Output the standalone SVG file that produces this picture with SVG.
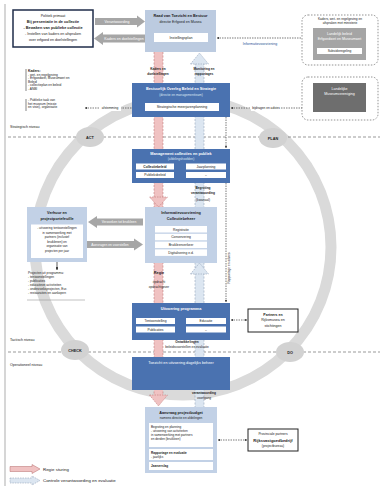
<svg xmlns="http://www.w3.org/2000/svg" width="385" height="486" viewBox="0 0 385 486">
<defs>
<style>
text{font-family:"Liberation Sans",Arial,sans-serif;fill:#1a1a1a}
.t{font-size:3.6px}
.tb{font-size:3.8px;font-weight:bold}
.w{fill:#fff}
.c{text-anchor:middle}
.dk{fill:#4a72b0}
.lt{fill:#c2d1e6}
.sub{fill:#fff}
.lvl{stroke:#555;stroke-width:0.6;stroke-dasharray:3 2;fill:none}
.dash{stroke:#222;stroke-width:0.6;stroke-dasharray:1.5 1;fill:none}
.frame{fill:#fff;stroke:#666;stroke-width:0.7;stroke-dasharray:1.5 1.5}
.ga{fill:#a6a6a6}
.badge{fill:#d2d2d2}
</style>
<marker id="ah" viewBox="0 0 6 6" refX="6" refY="3" markerWidth="4" markerHeight="4" orient="auto-start-reverse"><path d="M0,0 L6,3 L0,6 z" fill="#1a1a1a"/></marker>
</defs>
<rect width="385" height="486" fill="#fff"/>
<line x1="5" y1="4" x2="5" y2="486" stroke="#c8c8c8" stroke-width="1.5"/>

<g id="cycle">
<circle cx="183" cy="247" r="148" fill="none" stroke="#dadada" stroke-width="11"/>
<path class="lvl" d="M8,137 H380 M8,352 H380"/>
<text x="10" y="128" class="t">Strategisch niveau</text>
<text x="10" y="341" class="t">Tactisch niveau</text>
<text x="10" y="366" class="t">Operationeel niveau</text>
<ellipse class="badge" cx="90" cy="137" rx="14" ry="10"/><text x="90" y="139" class="tb c" fill="#555">ACT</text>
<ellipse class="badge" cx="273" cy="138" rx="14" ry="10"/><text x="273" y="140" class="tb c">PLAN</text>
<ellipse class="badge" cx="75" cy="350" rx="14" ry="10"/><text x="75" y="352" class="tb c">CHECK</text>
<ellipse class="badge" cx="290" cy="352" rx="14" ry="10"/><text x="290" y="354" class="tb c">DO</text>
</g>

<g id="connectors">
<!-- pink regie band -->
<rect x="154" y="52" width="9" height="344" fill="#f0c2c2"/>
<path d="M154,52 V396 M163,52 V396" stroke="#b56a6a" stroke-width="0.5" stroke-dasharray="2 1.5"/>
<polygon points="149.5,197 167.5,197 158.5,207" fill="#f0c2c2" stroke="#b56a6a" stroke-width="0.5" stroke-dasharray="1.5 1"/>
<polygon points="149.5,395 167.5,395 158.5,406" fill="#f0c2c2" stroke="#b56a6a" stroke-width="0.5" stroke-dasharray="1.5 1"/>
<!-- blue control band -->
<rect x="195" y="63" width="9" height="344" fill="#dce6f1"/>
<path d="M195,63 V407 M204,63 V407" stroke="#8494ad" stroke-width="0.5" stroke-dasharray="2 1.5"/>
<polygon points="190.5,64 208.5,64 199.5,53" fill="#dce6f1" stroke="#8494ad" stroke-width="0.5" stroke-dasharray="1.5 1"/>
<polygon points="190.5,274 208.5,274 199.5,263" fill="#dce6f1" stroke="#8494ad" stroke-width="0.5" stroke-dasharray="1.5 1"/>
<!-- band labels -->
<text x="158" y="70" class="t c" style="font-size:3.2px;font-weight:bold">Kaders en</text>
<text x="158" y="74.5" class="t c" style="font-size:3.2px;font-weight:bold">doelstellingen</text>
<text x="204" y="70" class="t c" style="font-size:3.2px;font-weight:bold">Monitoring en</text>
<text x="204" y="74.5" class="t c" style="font-size:3.2px;font-weight:bold">rapportages</text>
<text x="203" y="189" class="t c" style="font-size:3.2px;font-weight:bold">Begroting</text>
<text x="203" y="194" class="t c" style="font-size:3.2px;font-weight:bold">verantwoording</text>
<text x="203" y="201" class="t c" style="font-size:3.2px">(kwartaal)</text>
<text x="159" y="274" class="tb c">Regie</text>
<text x="159" y="283" class="t c" style="font-size:3.2px">opdracht</text>
<text x="159" y="287.5" class="t c" style="font-size:3.2px">opdrachtgever</text>
<text x="187" y="343" class="t c" style="font-size:3.2px;font-weight:bold">Ontwikkelingen</text>
<text x="187" y="347.5" class="t c" style="font-size:3.2px">beleidsvoorstellen en evaluatie</text>
<text x="204" y="394" class="t c" style="font-size:3.2px;font-weight:bold">verantwoording</text>
<text x="204" y="399" class="t c" style="font-size:3.2px">voortgang</text>
<!-- right dashed vertical -->
<line class="dash" x1="226" y1="117" x2="226" y2="148" marker-end="url(#ah)"/>
<line class="dash" x1="226" y1="183" x2="226" y2="302" marker-end="url(#ah)"/>
<text transform="translate(229.5,268) rotate(-90)" class="t c" style="font-size:3.2px">Rapportage en advies</text>
<!-- horizontal connectors -->
<line class="dash" x1="301" y1="38" x2="217" y2="38" marker-end="url(#ah)"/>
<text x="260" y="45" class="t c" style="fill:#2e5597">Informatievoorziening</text>
<line class="dash" x1="231" y1="108" x2="312" y2="108" marker-start="url(#ah)" marker-end="url(#ah)"/>
<rect x="251" y="105" width="30" height="6" fill="#fff"/>
<text x="266" y="109.3" class="t c" style="font-size:3.2px">bijdragen en advies</text>
<line class="dash" x1="85" y1="108" x2="144" y2="108" marker-start="url(#ah)" marker-end="url(#ah)"/>
<rect x="99" y="105" width="22" height="6" fill="#fff"/>
<text x="110" y="109.3" class="t c" style="font-size:3.2px">afstemming</text>
<line class="dash" x1="231" y1="320" x2="247" y2="320" marker-start="url(#ah)" marker-end="url(#ah)"/>
<line class="dash" x1="218" y1="440" x2="247" y2="440" marker-start="url(#ah)" marker-end="url(#ah)"/>
<line x1="57" y1="262" x2="57" y2="270" stroke="#1a1a1a" stroke-width="0.7" marker-end="url(#ah)"/>
<!-- gray arrows -->
<polygon class="ga" points="95,18 137,18 137,15.5 145,21.5 137,27.5 137,25 95,25"/>
<text x="117" y="22.8" class="t c w" style="fill:#fff">Verantwoording</text>
<polygon class="ga" points="145,34.5 103,34.5 103,32 94,38.5 103,45 103,42.5 145,42.5"/>
<text x="124" y="39.8" class="t c" style="fill:#fff">Kaders en doelstellingen</text>
<polygon class="ga" points="143,218.5 97,218.5 97,216 88,222 97,228 97,225.5 143,225.5"/>
<text x="119" y="223.3" class="t c" style="fill:#fff;font-size:3.3px">Verzoeken tot bruikleen</text>
<polygon class="ga" points="87,241 134,241 134,238.5 143,244.5 134,250.5 134,248 87,248"/>
<text x="110" y="245.8" class="t c" style="fill:#fff;font-size:3.3px">Aanvragen en voorstellen</text>
</g>

<g id="politiek">
<rect x="13" y="10" width="80" height="37" fill="#fff" stroke="#1f2d4a" stroke-width="1.5"/>
<text x="53" y="17" class="t c">Politiek primaat</text>
<text x="53" y="23" class="tb c">Bij presentatie in de collectie</text>
<text x="53" y="29" class="tb c">- Bewaken van publieke collectie</text>
<text x="53" y="35" class="t c">- Instellen van kaders en afspraken</text>
<text x="53" y="41" class="t c">over erfgoed en doelstellingen</text>
</g>

<g id="raad">
<rect x="145" y="10" width="71" height="42" fill="#bccbe0"/>
<text x="180.5" y="17" class="tb c">Raad van Toezicht en Bestuur</text>
<text x="180.5" y="22.5" class="t c">directie Erfgoed en Musea</text>
<rect x="154" y="33" width="54" height="9" fill="#fff"/>
<text x="181" y="38.8" class="t c">Instellingsplan</text>
</g>

<g id="landelijk-beleid">
<rect class="frame" x="302" y="15" width="76" height="50" rx="6"/>
<text x="340" y="20" class="t c" style="font-size:3.2px">Kaders, wet- en regelgeving en</text>
<text x="340" y="24" class="t c" style="font-size:3.2px">afspraken met ministerie</text>
<rect x="313" y="28" width="53" height="32" fill="#a5a5a5"/>
<text x="339.5" y="35" class="t c" style="fill:#fff">Landelijk beleid</text>
<text x="339.5" y="40" class="t c" style="fill:#fff">Erfgoedwet en Museumwet</text>
<rect x="317" y="48" width="45" height="6" fill="#fff"/>
<text x="339.5" y="52.3" class="t c" style="font-size:3.2px">Subsidieregeling</text>
</g>

<g id="museumvereniging">
<rect class="frame" x="302" y="77" width="76" height="43" rx="6"/>
<rect x="313" y="83" width="53" height="29" fill="#6e6e6e"/>
<text x="339.5" y="90" class="t c" style="fill:#fff">Landelijke</text>
<text x="339.5" y="95" class="t c" style="fill:#fff">Museumvereniging</text>
</g>

<g id="kaders">
<path d="M26,69 V91 M26,99 V111" stroke="#333" stroke-width="0.6"/>
<text x="28" y="71.5" class="tb" style="font-size:3.4px">Kaders:</text>
<text x="28" y="75.5" class="t" style="font-size:3.2px">- wet- en regelgeving</text>
<text x="28" y="79" class="t" style="font-size:3.2px">- Erfgoedwet, Museumwet en</text>
<text x="28" y="82.5" class="t" style="font-size:3.2px">  Beleid</text>
<text x="28" y="86" class="t" style="font-size:3.2px">- collectieplan en beleid</text>
<text x="28" y="89.5" class="t" style="font-size:3.2px">- ANBI</text>
<text x="28" y="101" class="t" style="font-size:3.2px">- Publieke taak van</text>
<text x="28" y="104.5" class="t" style="font-size:3.2px">  het museum (missie</text>
<text x="28" y="108" class="t" style="font-size:3.2px">  en visie), organisatie</text>
</g>

<g id="bestuurlijk">
<rect class="dk" x="132" y="83" width="98" height="34"/>
<text x="181" y="90" class="tb c" style="fill:#fff">Bestuurlijk Overleg Beleid en Strategie</text>
<text x="181" y="95.5" class="t c" style="fill:#dde6f3;font-size:3.2px">(directie en managementteam)</text>
<rect x="145" y="103" width="74" height="8" fill="#fff"/>
<text x="182" y="108.3" class="t c">Strategische meerjarenplanning</text>
</g>

<g id="management">
<rect class="dk" x="132" y="149" width="98" height="34"/>
<text x="181" y="155" class="tb c" style="fill:#fff">Management collecties en publiek</text>
<text x="181" y="160" class="t c" style="fill:#dde6f3;font-size:3.2px">(afdelingshoofden)</text>
<rect x="136" y="163.5" width="38" height="6" fill="#fff"/>
<text x="155" y="167.8" class="tb c" style="font-size:3.3px">Collectiebeleid</text>
<rect x="136" y="172" width="38" height="6" fill="#fff"/>
<text x="155" y="176.3" class="t c" style="font-size:3.3px">Publieksbeleid</text>
<rect x="186" y="163.5" width="40" height="6" fill="#fff"/>
<text x="206" y="167.8" class="t c" style="font-size:3.3px">Jaarplanning</text>
<rect x="186" y="172" width="40" height="6" fill="#fff"/>
<text x="206" y="176.3" class="t c" style="font-size:3.3px">–</text>
</g>

<g id="informatie">
<rect class="lt" x="145" y="207" width="72" height="56"/>
<text x="181" y="214" class="tb c">Informatievoorziening</text>
<text x="181" y="219.5" class="tb c">Collectiebeheer</text>
<rect x="155" y="226" width="52" height="6.5" fill="#fff"/>
<text x="181" y="230.6" class="t c" style="font-size:3.3px">Registratie</text>
<rect x="155" y="233.8" width="52" height="6.5" fill="#fff"/>
<text x="181" y="238.4" class="t c" style="font-size:3.3px">Conservering</text>
<rect x="155" y="241.6" width="52" height="6.5" fill="#fff"/>
<text x="181" y="246.2" class="t c" style="font-size:3.3px">Bruikleenverkeer</text>
<rect x="155" y="249.4" width="52" height="6.5" fill="#fff"/>
<text x="181" y="254" class="t c" style="font-size:3.3px">Digitalisering e.d.</text>
</g>

<g id="verhuur">
<rect class="lt" x="27" y="207" width="60" height="55"/>
<text x="57" y="213.5" class="tb c">Verhuur en</text>
<text x="57" y="219.5" class="tb c">projectportefeuille</text>
<rect x="31" y="224.5" width="52" height="33.5" fill="#fff"/>
<text x="57" y="229" class="t c" style="font-size:3.1px">- uitvoering tentoonstellingen</text>
<text x="57" y="233.5" class="t c" style="font-size:3.1px">in samenwerking met</text>
<text x="57" y="238" class="t c" style="font-size:3.1px">partners (inclusief</text>
<text x="57" y="242.5" class="t c" style="font-size:3.1px">bruiklenen) en</text>
<text x="57" y="247" class="t c" style="font-size:3.1px">organisatie van</text>
<text x="57" y="251.5" class="t c" style="font-size:3.1px">projecten per jaar</text>
</g>

<g id="projecten">
<text x="28" y="274" class="t" style="font-size:3.2px">Projecten uit programma:</text>
<text x="28" y="278" class="t" style="font-size:3.2px">- tentoonstellingen</text>
<text x="28" y="282" class="t" style="font-size:3.2px">- publicaties</text>
<text x="28" y="286" class="t" style="font-size:3.2px">- educatieve activiteiten</text>
<text x="28" y="290" class="t" style="font-size:3.2px">- onderzoeksprojecten, Eur.</text>
<text x="28" y="294" class="t" style="font-size:3.2px">- restauraties en aankopen</text>
<line x1="27" y1="300" x2="85" y2="300" stroke="#999" stroke-width="0.6"/>
</g>

<g id="uitvoering">
<rect class="dk" x="132" y="303" width="98" height="37"/>
<text x="181" y="310" class="tb c" style="fill:#fff">Uitvoering programma</text>
<rect x="136" y="318" width="39" height="6" fill="#fff"/>
<text x="155.5" y="322.3" class="t c" style="font-size:3.3px">Tentoonstelling</text>
<rect x="136" y="326.5" width="39" height="6" fill="#fff"/>
<text x="155.5" y="330.8" class="t c" style="font-size:3.3px">Publicaties</text>
<rect x="186" y="318" width="40" height="6" fill="#fff"/>
<text x="206" y="322.3" class="t c" style="font-size:3.3px">Educatie</text>
<rect x="186" y="326.5" width="40" height="6" fill="#fff"/>
<text x="206" y="330.8" class="t c" style="font-size:3.3px">–</text>
</g>

<g id="partners">
<rect x="248" y="309" width="50" height="23" fill="#fff" stroke="#222" stroke-width="1"/>
<text x="273" y="315.5" class="tb c" style="font-size:3.5px">Partners en</text>
<text x="273" y="321" class="t c">Rijksmusea en</text>
<text x="273" y="327" class="t c">stichtingen</text>
</g>

<g id="toezicht">
<rect class="dk" x="132" y="357" width="98" height="33"/>
<text x="181" y="364" class="t c" style="fill:#fff;font-size:3.8px">Toezicht en uitvoering dagelijks beheer</text>
</g>

<g id="aanvraag">
<rect class="lt" x="145" y="407" width="72" height="66"/>
<text x="181" y="413.5" class="tb c">Aanvraag projectbudget</text>
<text x="181" y="418.5" class="t c" style="font-size:3.2px">namens directie en afdelingen</text>
<rect x="149" y="423" width="64" height="24" fill="#fff"/>
<text x="151" y="428" class="t" style="font-size:3.1px">Begroting en planning</text>
<text x="151" y="432" class="t" style="font-size:3.1px">- uitvoering van activiteiten</text>
<text x="151" y="436" class="t" style="font-size:3.1px">  in samenwerking met partners</text>
<text x="151" y="440" class="t" style="font-size:3.1px">  en derden (bruikleen)</text>
<rect x="149" y="449" width="64" height="11" fill="#fff"/>
<text x="151" y="454" class="t" style="font-size:3.1px;font-weight:bold">Rapportage en evaluatie</text>
<text x="151" y="458" class="t" style="font-size:3.1px">- jaarlijks</text>
<rect x="149" y="462" width="64" height="8" fill="#fff"/>
<text x="151" y="467.3" class="t" style="font-size:3.1px;font-weight:bold">Jaarverslag</text>
</g>

<g id="rijksvastgoed">
<rect x="248" y="429" width="50" height="22" fill="#fff" stroke="#222" stroke-width="1"/>
<text x="273" y="435" class="t c" style="font-size:3.3px">Provinciale partners</text>
<text x="273" y="441.5" class="tb c" style="font-size:4px">Rijksvastgoedbedrijf</text>
<text x="273" y="447" class="t c" style="font-size:3.3px">(projectbureau)</text>
</g>

<g id="legend">
<polygon points="10,466.5 32,466.5 32,464.5 40,469 32,473.5 32,471.5 10,471.5" fill="#f0c2c2" stroke="#b56a6a" stroke-width="0.5"/>
<text x="43" y="470.8" style="font-size:4.4px">Regie sturing</text>
<polygon points="10,478 32,478 32,476 40,480.5 32,485 32,483 10,483" fill="#dce6f1" stroke="#8494ad" stroke-width="0.5" stroke-dasharray="1.5 1"/>
<text x="43" y="482.3" style="font-size:4.4px">Controle verantwoording en evaluatie</text>
</g>
</svg>
